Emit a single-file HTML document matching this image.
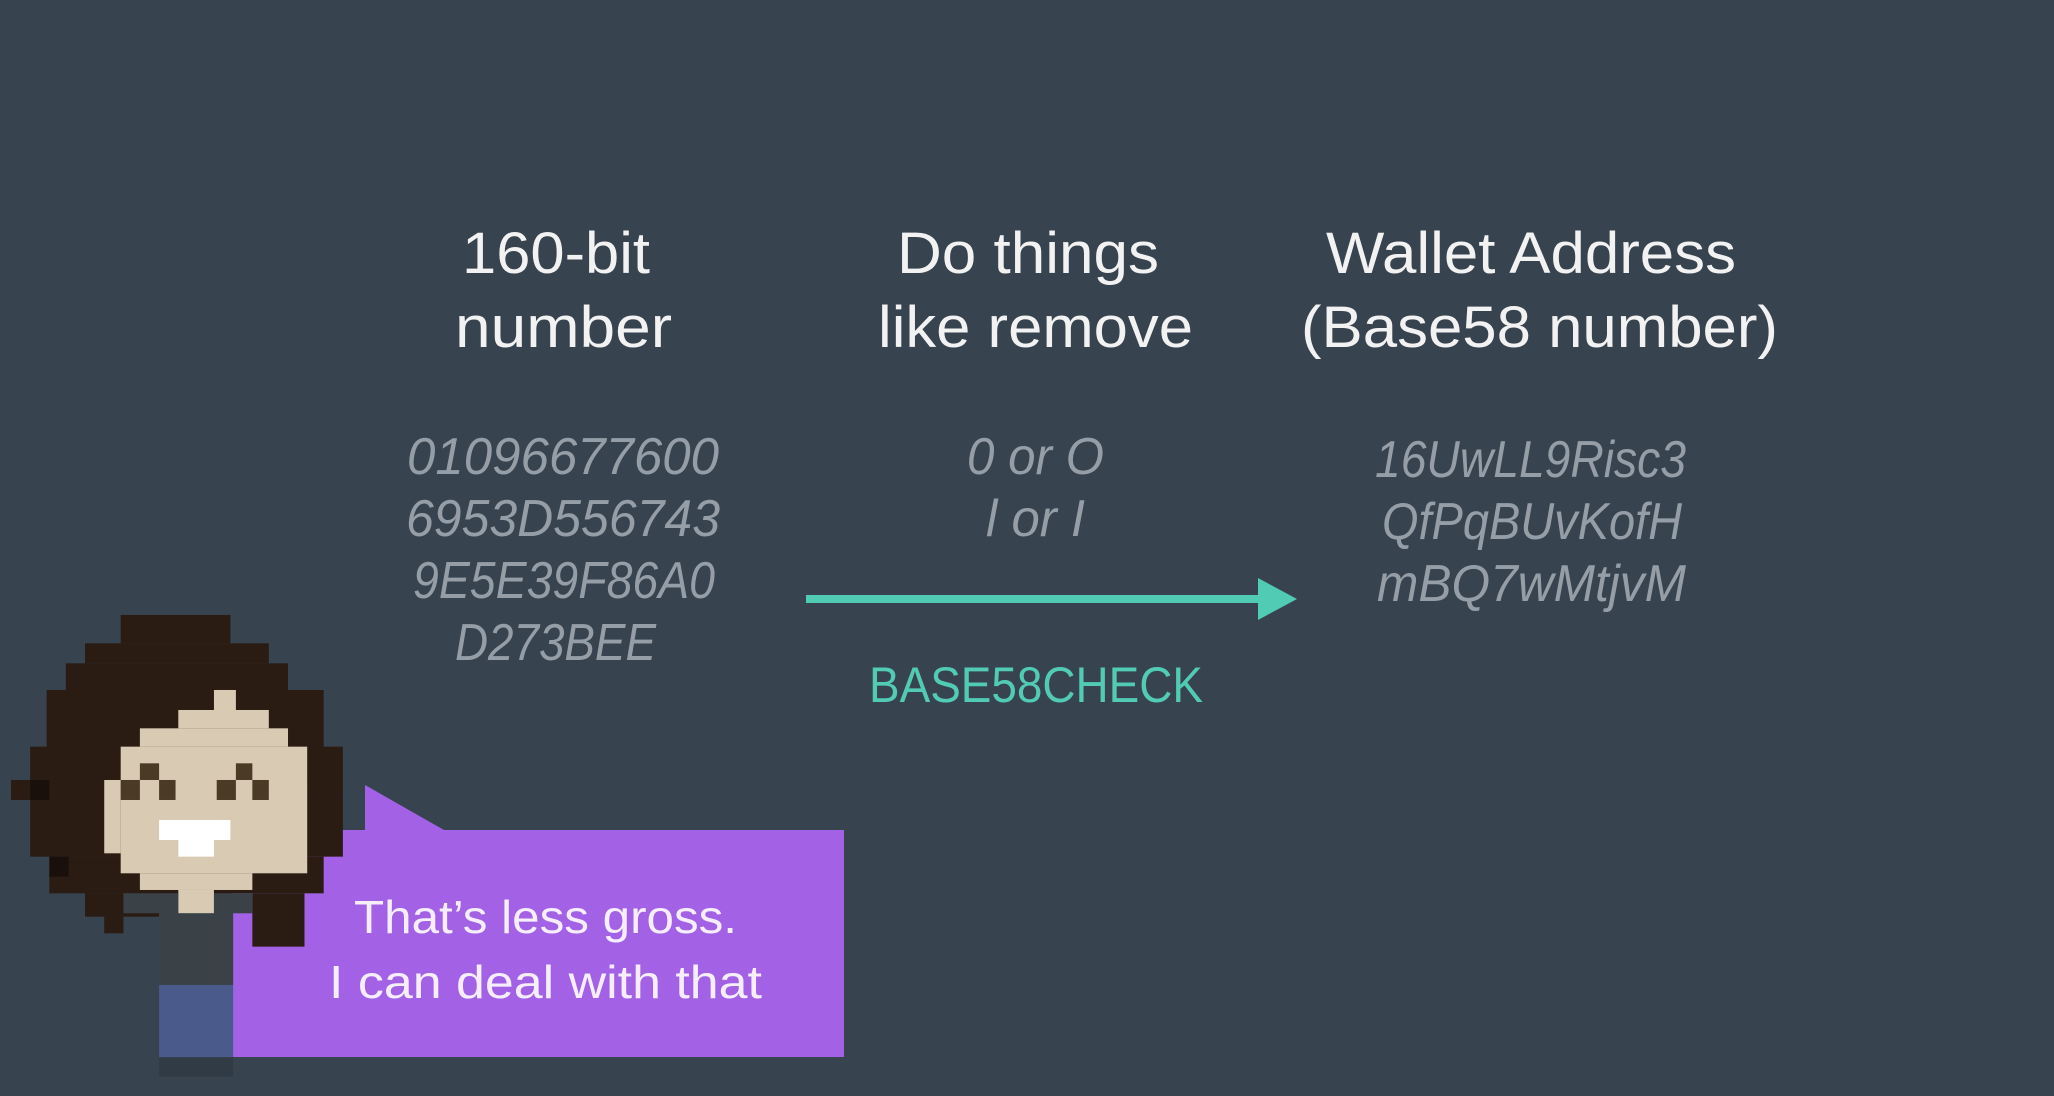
<!DOCTYPE html>
<html><head><meta charset="utf-8"><style>
html,body{margin:0;padding:0;background:#37434f;}
svg{display:block}
text{font-family:"Liberation Sans",sans-serif;}
</style></head><body>
<svg width="2054" height="1096" viewBox="0 0 2054 1096" xmlns="http://www.w3.org/2000/svg">
<rect width="2054" height="1096" fill="#37434f"/>
<g fill="#f2f2f2" font-size="58">
<text x="462" y="273" textLength="188" lengthAdjust="spacingAndGlyphs">160-bit</text>
<text x="455" y="347" textLength="217" lengthAdjust="spacingAndGlyphs">number</text>
<text x="897" y="273" textLength="262" lengthAdjust="spacingAndGlyphs">Do things</text>
<text x="878" y="347" textLength="315" lengthAdjust="spacingAndGlyphs">like remove</text>
<text x="1326" y="273" textLength="410" lengthAdjust="spacingAndGlyphs">Wallet Address</text>
<text x="1301" y="347" textLength="477" lengthAdjust="spacingAndGlyphs">(Base58 number)</text>
</g>
<g fill="#959ea7" font-size="52" font-style="italic">
<text x="407" y="474" textLength="312" lengthAdjust="spacingAndGlyphs">01096677600</text>
<text x="406" y="536" textLength="314" lengthAdjust="spacingAndGlyphs">6953D556743</text>
<text x="413" y="598" textLength="302" lengthAdjust="spacingAndGlyphs">9E5E39F86A0</text>
<text x="455" y="660" textLength="201" lengthAdjust="spacingAndGlyphs">D273BEE</text>
<text x="967" y="474" textLength="137" lengthAdjust="spacingAndGlyphs">0 or O</text>
<text x="986" y="536" textLength="99" lengthAdjust="spacingAndGlyphs">l or I</text>
<text x="1375" y="477" textLength="311" lengthAdjust="spacingAndGlyphs">16UwLL9Risc3</text>
<text x="1382" y="539" textLength="300" lengthAdjust="spacingAndGlyphs">QfPqBUvKofH</text>
<text x="1377" y="601" textLength="309" lengthAdjust="spacingAndGlyphs">mBQ7wMtjvM</text>
</g>
<rect x="806" y="595" width="456" height="8" fill="#52cbb4"/>
<polygon points="1258,578 1297,599 1258,620" fill="#52cbb4"/>
<text x="869" y="702" font-size="50" fill="#52cbb4" textLength="334" lengthAdjust="spacingAndGlyphs">BASE58CHECK</text>

<polygon points="365,785 444,830 844,830 844,1057 233,1057 233,830 365,830" fill="#a362e6"/>
<g fill="#f6eefc" font-size="46">
<text x="354" y="933" textLength="383" lengthAdjust="spacingAndGlyphs">That’s less gross.</text>
<text x="329" y="998" textLength="433" lengthAdjust="spacingAndGlyphs">I can deal with that</text>
</g>

<g transform="translate(0,600) scale(0.5486,0.3333)">
<g fill="#2a1b13">
<rect x="220" y="45" width="200" height="85"/>
<rect x="155" y="130" width="335" height="60"/>
<rect x="120" y="190" width="405" height="80"/>
<rect x="85" y="270" width="505" height="170"/>
<rect x="55" y="440" width="570" height="100"/>
<rect x="20" y="540" width="605" height="60"/>
<rect x="55" y="600" width="570" height="170"/>
<rect x="90" y="770" width="500" height="110"/>
<rect x="155" y="880" width="135" height="70"/>
<rect x="460" y="880" width="95" height="160"/>
<rect x="190" y="950" width="35" height="50"/>
</g>
<g fill="#1a100b">
<rect x="55" y="540" width="35" height="60"/>
<rect x="90" y="770" width="35" height="60"/>
<rect x="525" y="440" width="35" height="100"/>
</g>
<g fill="#d9cbb3">
<rect x="390" y="270" width="40" height="60"/>
<rect x="325" y="330" width="165" height="55"/>
<rect x="255" y="385" width="270" height="55"/>
<rect x="220" y="440" width="340" height="380"/>
<rect x="190" y="540" width="30" height="220"/>
<rect x="255" y="820" width="205" height="50"/>
<rect x="325" y="870" width="65" height="70"/>
</g>
<g fill="#4a3a26">
<rect x="255" y="490" width="35" height="50"/>
<rect x="220" y="540" width="35" height="60"/>
<rect x="290" y="540" width="30" height="60"/>
<rect x="430" y="490" width="30" height="50"/>
<rect x="395" y="540" width="35" height="60"/>
<rect x="460" y="540" width="30" height="60"/>
</g>
<g fill="#ffffff">
<rect x="290" y="660" width="130" height="60"/>
<rect x="325" y="720" width="65" height="50"/>
</g>
<g fill="#3a4248">
<rect x="155" y="880" width="0" height="0"/>
<rect x="225" y="880" width="100" height="60"/>
<rect x="390" y="880" width="70" height="60"/>
<rect x="290" y="940" width="135" height="215"/>
</g>
<rect x="290" y="1155" width="135" height="217" fill="#4a5a8a"/>
<rect x="290" y="1372" width="135" height="58" fill="#313b45"/>
</g>
</svg>
</body></html>
